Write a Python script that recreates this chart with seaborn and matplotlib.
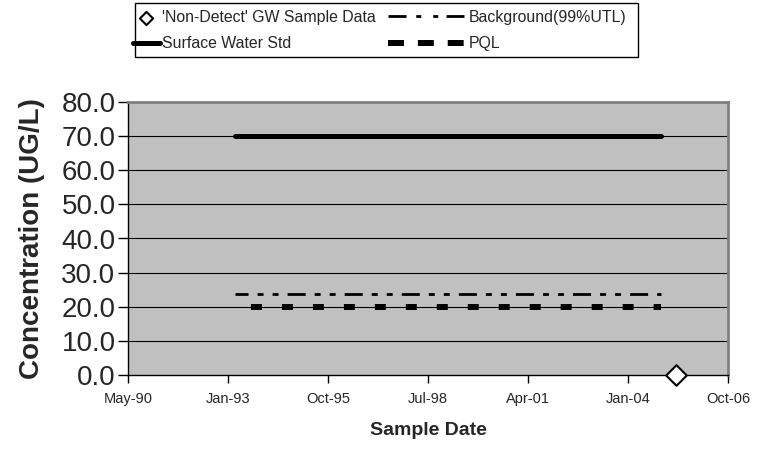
import pandas as pd
import numpy as np
import matplotlib
matplotlib.use("Agg")
import matplotlib.pyplot as plt
import matplotlib.dates as mdates
import seaborn as sns

# data
line_dates = pd.to_datetime(["1993-04-11", "2004-12-09"])
surface_water_std = [70.0, 70.0]
background_utl = [23.7, 23.7]
pql = [20.0, 20.0]

nd_dates = pd.to_datetime(["2005-05-09"])
nd_values = [0.0]

x_ticks = pd.to_datetime(["1990-05-08", "1993-01-31", "1995-10-28", "1998-07-24",
                          "2001-04-19", "2004-01-14", "2006-10-10"])
y_ticks = [0, 10, 20, 30, 40, 50, 60, 70, 80]

sns.set_theme(style="white")
plt.rcParams['font.family'] = ['Liberation Sans', 'DejaVu Sans']
plt.rcParams['lines.scale_dashes'] = False

W, H = 766, 461
fig = plt.figure(figsize=(W / 100, H / 100), dpi=100)
ax = fig.add_axes([128 / W, 86 / H, 600 / W, 273 / H])
ax.set_facecolor('#C0C0C0')

# gridlines first so the series sit on top
for v in y_ticks[1:-1]:
    ax.axhline(v, color='black', lw=0.8, zorder=1)

sns.lineplot(x=line_dates, y=surface_water_std, ax=ax, color='black', lw=3.6,
             solid_capstyle='round', label='Surface Water Std', zorder=3)
sns.lineplot(x=line_dates, y=background_utl, ax=ax, color='black', lw=2.0,
             linestyle=(3.6, (13, 6.5, 4.3, 6.5, 4.3, 6.5)), dash_capstyle='butt',
             label='Background(99%UTL)', zorder=3)
sns.lineplot(x=line_dates, y=pql, ax=ax, color='black', lw=4.3,
             linestyle=(10.8, (7.9, 14.4)), dash_capstyle='butt',
             label='PQL', zorder=3)
sns.scatterplot(x=nd_dates, y=nd_values, ax=ax, marker='D', s=110, color='white',
                edgecolor='black', linewidth=1.5, label="'Non-Detect' GW Sample Data",
                zorder=5, clip_on=False)

ax.set_xlim(x_ticks[0], x_ticks[-1])
ax.set_ylim(0, 80)
ax.set_xticks(x_ticks)
ax.xaxis.set_major_formatter(mdates.DateFormatter('%b-%y'))
ax.set_yticks(y_ticks)
ax.set_yticklabels([f"{v:.1f}" for v in y_ticks])
ax.tick_params(axis='x', labelsize=10.5, length=6, width=1, direction='out',
               bottom=True, color='black', pad=6)
ax.tick_params(axis='y', labelsize=20, length=7, width=1, direction='out',
               left=True, color='black', pad=2)

for side in ['left', 'bottom']:
    ax.spines[side].set_color('black')
    ax.spines[side].set_linewidth(1)
for side in ['top', 'right']:
    ax.spines[side].set_color('#808080')
    ax.spines[side].set_linewidth(2)

ax.set_xlabel('Sample Date', fontsize=14, fontweight='bold', labelpad=12)
ax.set_ylabel('Concentration (UG/L)', fontsize=20, fontweight='bold', labelpad=12)

# legend: two columns with different handle lengths, one shared frame
handles, labels = ax.get_legend_handles_labels()
ax.get_legend().remove()
h = dict(zip(labels, handles))
fs = 11.4
top = 1 - 10 / H
common = dict(loc='upper left', frameon=False, fontsize=fs, labelspacing=0.72,
              borderpad=0, borderaxespad=0)
leg1 = fig.legend([h["'Non-Detect' GW Sample Data"], h['Surface Water Std']],
                  ["'Non-Detect' GW Sample Data", 'Surface Water Std'],
                  bbox_to_anchor=(133 / W, top), handlelength=1.7,
                  handletextpad=0.15, **common)
leg1.legend_handles[0].set_sizes([45])
leg2 = fig.legend([h['Background(99%UTL)'], h['PQL']],
                  ['Background(99%UTL)', 'PQL'],
                  bbox_to_anchor=(388 / W, top), handlelength=4.8,
                  handletextpad=0.3, **common)
# legend samples use a slightly tighter dash pattern than the plotted lines
leg2.legend_handles[0].set_linestyle((0, (13, 7, 3.6, 8.6, 3.6, 6)))
leg2.legend_handles[1].set_linestyle((0, (11.5, 10)))
fig.add_artist(plt.Rectangle((135 / W, 1 - 57 / H), (638 - 135) / W, 54 / H,
                             transform=fig.transFigure, fill=False,
                             edgecolor='black', lw=1))

fig.savefig('out.png', dpi=100)
